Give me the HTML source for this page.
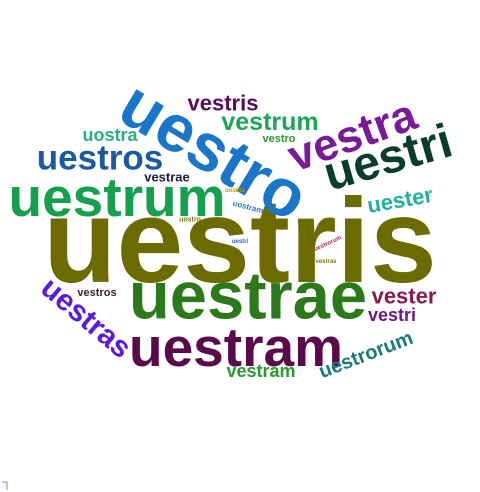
<!DOCTYPE html>
<html><head><meta charset="utf-8"><style>
html,body{margin:0;padding:0;background:#fff;width:480px;height:492px;overflow:hidden}
svg{display:block}
text{font-family:"Liberation Sans",Arial,sans-serif;font-weight:bold}
</style></head><body>
<svg id="cloud" width="480" height="492" viewBox="0 0 480 492" xmlns="http://www.w3.org/2000/svg">
<path d="M2 482 L7 482 L7 490" stroke="#8888cc" fill="none" stroke-width="1"/>
</svg>
<script>
const words=["uestris","uestro","uestrae","uestram","uestrum","uestri","vestra","uestros","uestras","vestrum","vestris","uester","vester","uestrorum","uostra","vestram","vestri","vestrae","vestros","vestro","uostram","uostris","uostro","uestrorum","vestras","uestri"];
const sizes=[120,67,67,55,55,48,45,35,30,25,22,22,22,20,18,18,18,13,11,11,8,6,7,6,6,6];
const colors=["#6b6b00","#1a76c8","#2a7a1a","#5a0a4a","#14a04c","#083c2c","#7a1a9a","#1a5aa0","#5a1ae0","#1aa858","#5a0a5a","#20b0a0","#8a1a4a","#1a7a7a","#2ab080","#2a9a2a","#6a1a7a","#1a1a3a","#4a1a2a","#2a9a2a","#2a7ad0","#b0a000","#7a7a10","#c02040","#7a7a10","#2a6ad0"];
const cx=[240,214,248,236,117,388,352,100,86,270,223,400,404,366,110,261,392,167,97,279,248,235,190,328,326,240];
const cy=[241,151,296,347,197,158,135,158,318,122,103,200,296,355,135,371,315,177,293,139,207,191,220,244,262,242];
const rot=[0,31,0,0,0,-16,-20,0,40,0,0,-10,0,-21,0,0,0,0,0,0,15,0,0,-25,0,0];
const svg=document.getElementById('cloud');
for(let i=0;i<words.length;i++){
 const t=document.createElementNS('http://www.w3.org/2000/svg','text');
 
 
 t.setAttribute('x',cx[i]);t.setAttribute('y',cy[i]);
 t.setAttribute('text-anchor','middle');
 t.setAttribute('dominant-baseline','central');
 t.setAttribute('font-size',sizes[i]);
 t.setAttribute('fill',colors[i]);
 t.setAttribute('transform','rotate('+rot[i]+' '+cx[i]+' '+cy[i]+')');
 t.textContent=words[i];
 svg.appendChild(t);
}
</script>
</body></html>
